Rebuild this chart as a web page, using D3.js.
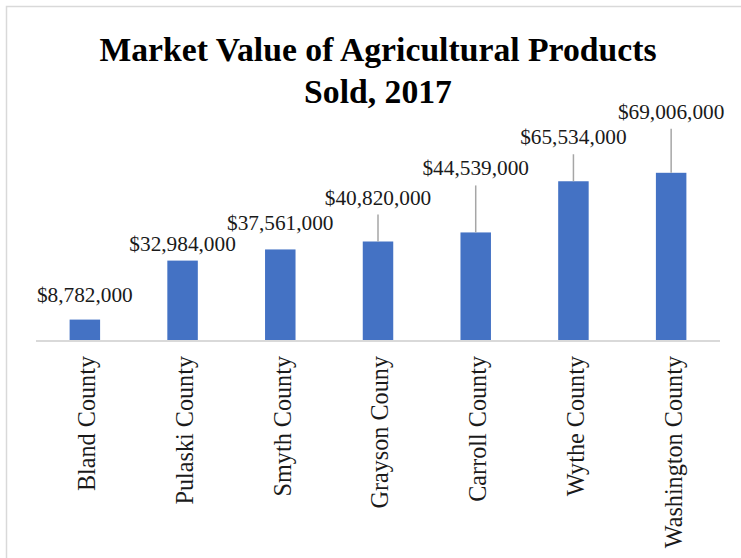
<!DOCTYPE html>
<html>
<head>
<meta charset="utf-8">
<script src="https://cdn.jsdelivr.net/npm/d3@7"></script>
<style>
  html, body { margin: 0; padding: 0; background: #fff; }
  svg { display: block; }
</style>
</head>
<body>
<svg id="chart" width="741" height="558"></svg>
<script>
// County names along the category axis
const counties = ["Bland County", "Pulaski County", "Smyth County", "Grayson Couny",
                  "Carroll County", "Wythe County", "Washington County"];
// Market value of agricultural products sold, 2017 (US dollars)
const marketValue = [8782000, 32984000, 37561000, 40820000, 44539000, 65534000, 69006000];
// Title lines
const titleLines = ["Market Value of Agricultural Products", "Sold, 2017"];
// How far each value label sits above its bar (px); labels lifted far get a leader line
const labelLift = [18, 10, 19, 37, 57, 37, 54];

const W = 741, H = 558;
const svg = d3.select("#chart");
const serif = "'Liberation Serif', 'Times New Roman', serif";

// Chart-area frame (left and top edges show; the rest runs off the page)
svg.append("rect")
  .attr("x", 6.5).attr("y", 6.5)
  .attr("width", W + 20).attr("height", H + 20)
  .attr("fill", "none")
  .attr("stroke", "#d9d9d9")
  .attr("stroke-width", 1.5);

// Title
svg.append("g").selectAll("text")
  .data(titleLines)
  .join("text")
  .attr("x", 378)
  .attr("y", (d, i) => 61 + i * 42)
  .attr("text-anchor", "middle")
  .attr("font-family", serif)
  .attr("font-weight", "bold")
  .attr("font-size", 33.7)
  .attr("fill", "#000")
  .text(d => d);

// Scales
const x = d3.scaleBand()
  .domain(counties)
  .range([36, 720])
  .paddingInner(0.688)
  .paddingOuter(0.344);

const y = d3.scaleLinear()
  .domain([0, 80000000])
  .range([341, 146]);

const fmt = v => "$" + d3.format(",")(v);

const data = counties.map((c, i) => ({ county: c, value: marketValue[i], lift: labelLift[i] }));

// Bars
svg.append("g").selectAll("rect")
  .data(data)
  .join("rect")
  .attr("x", d => x(d.county))
  .attr("y", d => y(d.value))
  .attr("width", x.bandwidth())
  .attr("height", d => y(0) - y(d.value))
  .attr("fill", "#4472c4");

// Category axis line
svg.append("line")
  .attr("x1", x.range()[0]).attr("x2", x.range()[1])
  .attr("y1", y(0)).attr("y2", y(0))
  .attr("stroke", "#d9d9d9")
  .attr("stroke-width", 2);

// Leader lines for labels moved away from their bars
svg.append("g").selectAll("line")
  .data(data.filter(d => d.lift > 30))
  .join("line")
  .attr("x1", d => x(d.county) + x.bandwidth() / 2)
  .attr("x2", d => x(d.county) + x.bandwidth() / 2)
  .attr("y1", d => y(d.value) - d.lift + 10)
  .attr("y2", d => y(d.value))
  .attr("stroke", "#a6a6a6")
  .attr("stroke-width", 1.5);

// Value labels
svg.append("g").selectAll("text")
  .data(data)
  .join("text")
  .attr("x", d => x(d.county) + x.bandwidth() / 2)
  .attr("y", d => y(d.value) - d.lift)
  .attr("text-anchor", "middle")
  .attr("font-family", serif)
  .attr("font-size", 21.3)
  .attr("fill", "#1a1a1a")
  .text(d => fmt(d.value));

// Rotated category labels
svg.append("g").selectAll("text")
  .data(counties)
  .join("text")
  .attr("transform", d => `translate(${x(d) + x.bandwidth() / 2 + 2},356) rotate(-90)`)
  .attr("text-anchor", "end")
  .attr("dy", "0.35em")
  .attr("font-family", serif)
  .attr("font-size", 24.2)
  .attr("fill", "#1a1a1a")
  .text(d => d);
</script>
</body>
</html>
